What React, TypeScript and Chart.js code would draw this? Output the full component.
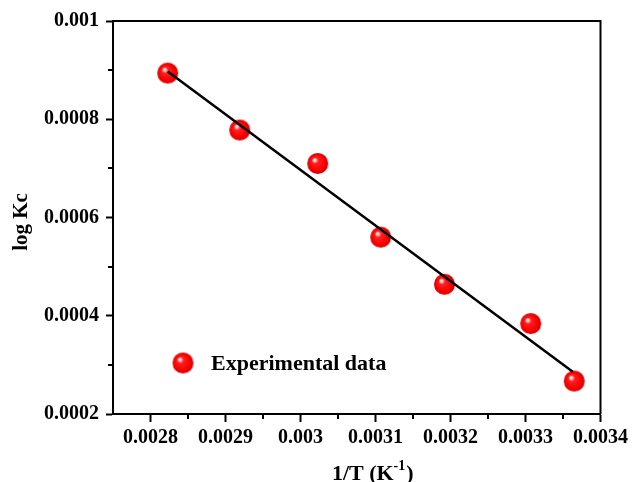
import React, { useEffect, useRef } from 'react';
import { Chart, registerables } from 'chart.js';
Chart.register(...registerables);

// ---- data ----
const xValues = [0.002823, 0.002919, 0.003023, 0.003107, 0.003192, 0.003307, 0.003365];
const yValues = [0.000894, 0.000778, 0.00071, 0.00056, 0.000464, 0.000384, 0.000267];
const fitX = [0.002823, 0.003363];
const fitY = [0.000897, 0.000286];
const xTicks = [0.0028, 0.0029, 0.003, 0.0031, 0.0032, 0.0033, 0.0034];
const xTickLabels = ['0.0028', '0.0029', '0.003', '0.0031', '0.0032', '0.0033', '0.0034'];
const xMinorTicks = [0.00285, 0.00295, 0.00305, 0.00315, 0.00325, 0.00335];
const yTicks = [0.0002, 0.0004, 0.0006, 0.0008, 0.001];
const yTickLabels = ['0.0002', '0.0004', '0.0006', '0.0008', '0.001'];
const yMinorTicks = [0.0003, 0.0005, 0.0007, 0.0009];
const seriesLabel = 'Experimental data';
const xTitleMain = '1/T (K';
const xTitleSup = '-1';
const xTitleEnd = ')';
const yTitle = 'log Kc';

const FONT = '"Liberation Serif", "Times New Roman", serif';

function makeSphere(r: number) {
  const c = document.createElement('canvas');
  const s = Math.ceil(2 * r + 2);
  c.width = s;
  c.height = s;
  const ctx = c.getContext('2d')!;
  const cx = s / 2, cy = s / 2;
  const g = ctx.createRadialGradient(cx - r * 0.35, cy - r * 0.38, 0, cx, cy, r);
  g.addColorStop(0, '#ffffff');
  g.addColorStop(0.12, '#ffd0d0');
  g.addColorStop(0.3, '#ff2020');
  g.addColorStop(0.75, '#fa0000');
  g.addColorStop(1, '#d00000');
  ctx.fillStyle = g;
  ctx.beginPath();
  ctx.arc(cx, cy, r, 0, Math.PI * 2);
  ctx.fill();
  return c;
}

export default function App() {
  const ref = useRef<HTMLCanvasElement>(null);
  useEffect(() => {
    const sphere = makeSphere(10.5);
    const legendSphere = makeSphere(10.5);

    const decor = {
      id: 'decor',
      afterDraw(chart: any) {
        const { ctx, chartArea } = chart;
        const { left, right, top, bottom } = chartArea;
        const xs = chart.scales.x;
        const ys = chart.scales.y;
        ctx.save();
        ctx.strokeStyle = '#000';
        ctx.lineWidth = 2;
        // frame top and right
        ctx.beginPath();
        ctx.moveTo(left - 1, top);
        ctx.lineTo(right, top);
        ctx.lineTo(right, bottom);
        ctx.stroke();
        // minor ticks
        ctx.beginPath();
        xMinorTicks.forEach((v) => {
          const px = Math.round(xs.getPixelForValue(v));
          ctx.moveTo(px, bottom);
          ctx.lineTo(px, bottom + 5);
        });
        yMinorTicks.forEach((v) => {
          const py = Math.round(ys.getPixelForValue(v));
          ctx.moveTo(left, py);
          ctx.lineTo(left - 5, py);
        });
        ctx.stroke();

        // legend
        const lx = left + 70, ly = bottom - 51;
        ctx.drawImage(legendSphere, lx - legendSphere.width / 2, ly - legendSphere.height / 2);
        ctx.fillStyle = '#000';
        ctx.font = `bold 22px ${FONT}`;
        ctx.textAlign = 'left';
        ctx.textBaseline = 'alphabetic';
        ctx.fillText(seriesLabel, lx + 28, ly + 7);

        // y title
        ctx.save();
        ctx.translate(22, 222);
        ctx.rotate(-Math.PI / 2);
        ctx.textAlign = 'center';
        ctx.textBaseline = 'middle';
        ctx.font = `bold 21px ${FONT}`;
        ctx.fillText(yTitle, 0, 0);
        ctx.restore();

        // x title with superscript
        ctx.font = `bold 22px ${FONT}`;
        const w1 = ctx.measureText(xTitleMain).width;
        const w3 = ctx.measureText(xTitleEnd).width;
        ctx.font = `bold 14px ${FONT}`;
        const w2 = ctx.measureText(xTitleSup).width;
        const total = w1 + w2 + w3 + 1;
        let tx = (left + right) / 2 + 16 - total / 2;
        const base = 480;
        ctx.textAlign = 'left';
        ctx.textBaseline = 'alphabetic';
        ctx.font = `bold 22px ${FONT}`;
        ctx.fillText(xTitleMain, tx, base);
        tx += w1;
        ctx.font = `bold 14px ${FONT}`;
        ctx.fillText(xTitleSup, tx, base - 10);
        tx += w2 + 1;
        ctx.font = `bold 22px ${FONT}`;
        ctx.fillText(xTitleEnd, tx, base);
        ctx.restore();
      },
    };

    const chart = new Chart(ref.current!, {
      type: 'scatter',
      data: {
        datasets: [
          {
            type: 'line',
            label: 'fit',
            data: fitX.map((x, i) => ({ x, y: fitY[i] })),
            borderColor: '#000',
            borderWidth: 2.5,
            pointRadius: 0,
            fill: false,
            order: 0,
          } as any,
          {
            label: seriesLabel,
            data: xValues.map((x, i) => ({ x, y: yValues[i] })),
            pointStyle: sphere as any,
            pointRadius: 10.5,
            backgroundColor: '#ff0000',
            borderColor: '#ff0000',
            order: 1,
          },
        ],
      },
      options: {
        animation: false,
        responsive: false,
        devicePixelRatio: 1,
        layout: { padding: { top: 21, right: 29, left: 0, bottom: 0 } },
        plugins: { legend: { display: false }, tooltip: { enabled: false } },
        scales: {
          x: {
            type: 'linear',
            min: 0.00275,
            max: 0.0034,
            afterBuildTicks: (s: any) => {
              s.ticks = xTicks.map((v) => ({ value: v }));
            },
            afterFit: (s: any) => {
              s.height = 68;
            },
            ticks: {
              callback: (_v: any, i: number) => xTickLabels[i],
              font: { family: FONT, weight: 'bold', size: 20 },
              color: '#000',
              padding: 4,
              maxRotation: 0,
              autoSkip: false,
            },
            grid: { display: true, drawOnChartArea: false, drawTicks: true, tickLength: 8, tickColor: '#000', tickWidth: 2 },
            border: { display: true, color: '#000', width: 2 },
          },
          y: {
            type: 'linear',
            min: 0.0002,
            max: 0.001,
            afterBuildTicks: (s: any) => {
              s.ticks = yTicks.map((v) => ({ value: v }));
            },
            afterFit: (s: any) => {
              s.width = 113;
            },
            ticks: {
              callback: (_v: any, i: number) => yTickLabels[i],
              font: { family: FONT, weight: 'bold', size: 20 },
              color: '#000',
              padding: 7,
              autoSkip: false,
            },
            grid: { display: true, drawOnChartArea: false, drawTicks: true, tickLength: 7, tickColor: '#000', tickWidth: 2 },
            border: { display: true, color: '#000', width: 2 },
          },
        },
      },
      plugins: [decor],
    });
    return () => chart.destroy();
  }, []);

  return (
    <div style={{ position: 'fixed', left: 0, top: 0, width: 632, height: 482, background: '#fff' }}>
      <canvas ref={ref} width={632} height={482} style={{ display: 'block', width: 632, height: 482 }} />
    </div>
  );
}
